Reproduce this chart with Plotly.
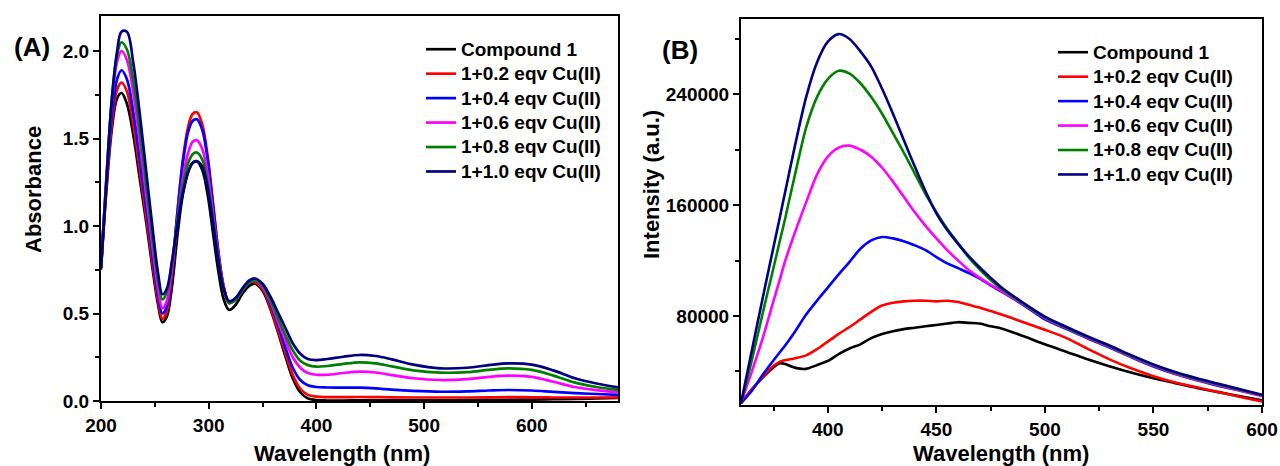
import plotly.graph_objects as go

# ---------------- data ----------------
series_names = ["Compound 1", "1+0.2 eqv Cu(II)", "1+0.4 eqv Cu(II)",
                "1+0.6 eqv Cu(II)", "1+0.8 eqv Cu(II)", "1+1.0 eqv Cu(II)"]
series_colors = ["#000000", "#FF0000", "#0000FF", "#FF00FF", "#008000", "#000080"]

# (A) UV-vis absorption
uv_wavelength = [200, 205, 210, 215, 219, 224, 230, 236, 242, 248, 253, 257, 261, 266, 271, 276,
                 281, 285, 289, 294, 299, 304, 309, 314, 319, 325, 332, 338, 343, 350, 357, 364,
                 371, 378, 385, 392, 400, 410, 425, 440, 455, 470, 490, 515, 540, 560, 578, 600,
                 620, 640, 660, 680]
abs_c1 = [0.76, 1.20, 1.55, 1.73, 1.76, 1.70, 1.52, 1.27, 1.02, 0.75, 0.55, 0.45, 0.48, 0.66, 0.95, 1.18,
          1.31, 1.36, 1.37, 1.32, 1.18, 0.96, 0.74, 0.58, 0.52, 0.55, 0.62, 0.66, 0.67, 0.63, 0.53, 0.40,
          0.26, 0.13, 0.05, 0.015, 0.005, 0.003, 0.003, 0.004, 0.004, 0.004, 0.004, 0.004, 0.005, 0.006, 0.007, 0.008,
          0.010, 0.012, 0.015, 0.018]
abs_02 = [0.76, 1.22, 1.58, 1.78, 1.82, 1.77, 1.58, 1.32, 1.05, 0.78, 0.57, 0.47, 0.51, 0.74, 1.08, 1.38,
          1.57, 1.64, 1.65, 1.58, 1.40, 1.13, 0.85, 0.65, 0.56, 0.58, 0.64, 0.68, 0.68, 0.64, 0.54, 0.41,
          0.28, 0.15, 0.07, 0.035, 0.025, 0.022, 0.022, 0.023, 0.022, 0.021, 0.020, 0.020, 0.020, 0.021, 0.022, 0.021,
          0.020, 0.020, 0.020, 0.020]
abs_04 = [0.76, 1.25, 1.63, 1.84, 1.89, 1.84, 1.65, 1.38, 1.10, 0.82, 0.60, 0.50, 0.54, 0.76, 1.08, 1.36,
          1.54, 1.60, 1.61, 1.55, 1.38, 1.12, 0.85, 0.65, 0.56, 0.58, 0.64, 0.68, 0.69, 0.65, 0.56, 0.44,
          0.31, 0.19, 0.12, 0.09, 0.08, 0.077, 0.076, 0.076, 0.072, 0.065, 0.058, 0.053, 0.055, 0.060, 0.063, 0.060,
          0.052, 0.045, 0.040, 0.035]
abs_06 = [0.78, 1.28, 1.70, 1.94, 2.00, 1.95, 1.76, 1.48, 1.17, 0.87, 0.64, 0.53, 0.57, 0.76, 1.03, 1.27,
          1.42, 1.48, 1.49, 1.44, 1.30, 1.07, 0.83, 0.65, 0.56, 0.58, 0.64, 0.68, 0.69, 0.65, 0.57, 0.46,
          0.35, 0.25, 0.19, 0.16, 0.15, 0.15, 0.16, 0.168, 0.163, 0.148, 0.130, 0.120, 0.125, 0.138, 0.145, 0.138,
          0.110, 0.080, 0.062, 0.050]
abs_08 = [0.76, 1.27, 1.72, 1.98, 2.05, 2.01, 1.83, 1.55, 1.23, 0.92, 0.69, 0.58, 0.62, 0.80, 1.03, 1.23,
          1.36, 1.41, 1.42, 1.38, 1.25, 1.04, 0.81, 0.64, 0.56, 0.58, 0.64, 0.68, 0.69, 0.66, 0.58, 0.48,
          0.38, 0.29, 0.23, 0.205, 0.196, 0.20, 0.212, 0.221, 0.215, 0.198, 0.175, 0.162, 0.165, 0.178, 0.187, 0.178,
          0.145, 0.105, 0.080, 0.063]
abs_10 = [0.75, 1.25, 1.72, 2.00, 2.11, 2.11, 1.93, 1.64, 1.31, 0.98, 0.73, 0.61, 0.64, 0.80, 1.01, 1.19,
          1.31, 1.36, 1.37, 1.34, 1.22, 1.02, 0.80, 0.64, 0.57, 0.59, 0.65, 0.69, 0.70, 0.67, 0.60, 0.51,
          0.42, 0.33, 0.27, 0.24, 0.234, 0.24, 0.253, 0.263, 0.257, 0.238, 0.208, 0.187, 0.190, 0.205, 0.215, 0.208,
          0.175, 0.130, 0.100, 0.078]
uv_series = [abs_c1, abs_02, abs_04, abs_06, abs_08, abs_10]

# (B) fluorescence emission
fl_wavelength = [360, 365, 370, 375, 378, 380, 385, 390, 395, 400, 405, 410, 415, 420, 425, 430,
                 435, 440, 445, 450, 455, 460, 465, 470, 475, 480, 490, 500, 510, 520, 530, 540,
                 550, 560, 570, 580, 590, 600]
fl_c1 = [17000, 27000, 35500, 43000, 45900, 45500, 42500, 41800, 44500, 47500, 52500, 56500, 59500, 64000, 67000, 69000,
         70500, 71500, 72500, 73500, 74500, 75500, 75000, 74500, 72500, 71000, 65500, 59500, 54000, 48500, 43500, 39000,
         35000, 31500, 28000, 25000, 22000, 19000]
fl_02 = [17000, 27000, 36000, 44000, 47000, 48000, 49500, 51500, 56000, 61500, 67000, 72000, 77500, 83000, 87500, 89500,
         90500, 91000, 91000, 90500, 91000, 90000, 88000, 86000, 83500, 81000, 75500, 70000, 64000, 56000, 48500, 42000,
         36500, 32000, 28500, 25000, 21500, 18300]
fl_04 = [17000, 26000, 37500, 48000, 54000, 58000, 69000, 81000, 91000, 100500, 110000, 119000, 128500, 134500, 137000, 136000,
         134000, 131000, 127500, 122500, 118000, 114500, 111000, 107000, 102000, 97500, 88000, 77500, 70500, 63500, 57000, 50000,
         43500, 38000, 33500, 29500, 26000, 22500]
fl_06 = [17000, 40000, 64000, 91000, 107000, 118000, 141000, 162000, 182000, 195000, 201500, 203000, 200000, 195000, 187000, 177000,
         166000, 155000, 145000, 136000, 127500, 120000, 113000, 107500, 102500, 98000, 88500, 78500, 71000, 64000, 57500, 50500,
         44000, 38500, 34000, 30000, 26000, 22000]
fl_08 = [17000, 48000, 82000, 115000, 135000, 148000, 183000, 216000, 238000, 251000, 257000, 255000, 248000, 238000, 226000, 212000,
         198000, 183000, 168000, 155000, 143000, 132500, 122000, 113500, 106000, 99500, 89000, 79000, 71500, 64500, 58000, 51000,
         44500, 39000, 34500, 30500, 26500, 22800]
fl_10 = [17000, 55000, 93000, 130000, 152000, 167000, 204000, 238000, 263000, 278000, 283500, 280000, 271000, 260000, 244000, 226000,
         207000, 188000, 170000, 154000, 142000, 132000, 123000, 115000, 107500, 100500, 89500, 79500, 72000, 65000, 58500, 51500,
         45000, 39500, 35000, 31000, 27000, 23100]
fl_series = [fl_c1, fl_02, fl_04, fl_06, fl_08, fl_10]

# tick settings
uv_x_ticks = [200, 300, 400, 500, 600]
uv_y_ticks = [0.0, 0.5, 1.0, 1.5, 2.0]
fl_x_ticks = [400, 450, 500, 550, 600]
fl_y_ticks = [80000, 160000, 240000]

# ---------------- figure ----------------
W, H = 1280, 466
FONT = "Liberation Sans"
LEGEND_TEXT_PX = 19


def legend_label(name):
    return f"<span style='font-size:{LEGEND_TEXT_PX}px'>{name}</span>"


fig = go.Figure()

for name, col, ys in zip(series_names, series_colors, uv_series):
    fig.add_trace(go.Scatter(x=uv_wavelength, y=ys, mode="lines", name=legend_label(name),
                             line=dict(color=col, width=2.7, shape="spline", smoothing=1.0),
                             xaxis="x", yaxis="y", legend="legend"))
for name, col, ys in zip(series_names, series_colors, fl_series):
    fig.add_trace(go.Scatter(x=fl_wavelength, y=ys, mode="lines", name=legend_label(name),
                             line=dict(color=col, width=2.6, shape="spline", smoothing=0.8),
                             xaxis="x2", yaxis="y2", legend="legend2"))

tickfont = dict(family=FONT, size=19, color="black", weight="bold")
axis_common = dict(showline=True, linecolor="black", linewidth=2, mirror=True,
                   ticks="outside", ticklen=6, tickwidth=2, tickcolor="black",
                   showgrid=False, zeroline=False, tickfont=tickfont, automargin=False)
legend_font = dict(family=FONT, size=16.5, color="black", weight="bold")

fig.update_layout(
    width=W, height=H,
    margin=dict(l=0, r=0, t=0, b=0),
    paper_bgcolor="white", plot_bgcolor="white",
    xaxis=dict(domain=[101 / W, 618 / W], range=[200, 680], tickvals=uv_x_ticks,
               minor=dict(ticks="outside", ticklen=4, tickwidth=2, tickcolor="black", dtick=50, tick0=200),
               anchor="y", **axis_common),
    yaxis=dict(domain=[1 - 401 / H, 1 - 16 / H], range=[0, 2.2], tickvals=uv_y_ticks, tickformat=".1f",
               minor=dict(ticks="outside", ticklen=4, tickwidth=2, tickcolor="black", dtick=0.25, tick0=0),
               anchor="x", **axis_common),
    xaxis2=dict(domain=[741 / W, 1262 / W], range=[360, 600], tickvals=fl_x_ticks,
                minor=dict(ticks="outside", ticklen=4, tickwidth=2, tickcolor="black", dtick=25, tick0=350),
                anchor="y2", **axis_common),
    yaxis2=dict(domain=[1 - 405 / H, 1 - 19 / H], range=[15700, 294400], tickvals=fl_y_ticks, tickformat="d",
                minor=dict(ticks="outside", ticklen=4, tickwidth=2, tickcolor="black", dtick=40000, tick0=0),
                anchor="x2", **axis_common),
    legend=dict(x=421 / W, y=1 - 32 / H, xanchor="left", yanchor="top",
                bgcolor="rgba(0,0,0,0)", borderwidth=0, tracegroupgap=0, font=legend_font),
    legend2=dict(x=1053 / W, y=1 - 35 / H, xanchor="left", yanchor="top",
                 bgcolor="rgba(0,0,0,0)", borderwidth=0, tracegroupgap=0, font=legend_font),
)

title_font = dict(family=FONT, size=22, color="black", weight="bold")
annotations = [
    dict(text="Absorbance", x=33 / W, y=1 - 190 / H, textangle=-90),
    dict(text="Wavelength (nm)", x=342 / W, y=1 - 453 / H),
    dict(text="Intensity (a.u.)", x=652 / W, y=1 - 185 / H, textangle=-90),
    dict(text="Wavelength (nm)", x=1001 / W, y=1 - 453 / H),
]
for a in annotations:
    fig.add_annotation(xref="paper", yref="paper", showarrow=False,
                       xanchor="center", yanchor="middle", font=title_font, **a)

panel_font = dict(family=FONT, size=26, color="black", weight="bold")
fig.add_annotation(text="(A)", xref="paper", yref="paper", x=32 / W, y=1 - 47 / H,
                   showarrow=False, xanchor="center", yanchor="middle", font=panel_font)
fig.add_annotation(text="(B)", xref="paper", yref="paper", x=680 / W, y=1 - 50 / H,
                   showarrow=False, xanchor="center", yanchor="middle", font=panel_font)

fig.write_html("out.html", config={"displayModeBar": False},
               post_script="document.body.style.margin='0';")
